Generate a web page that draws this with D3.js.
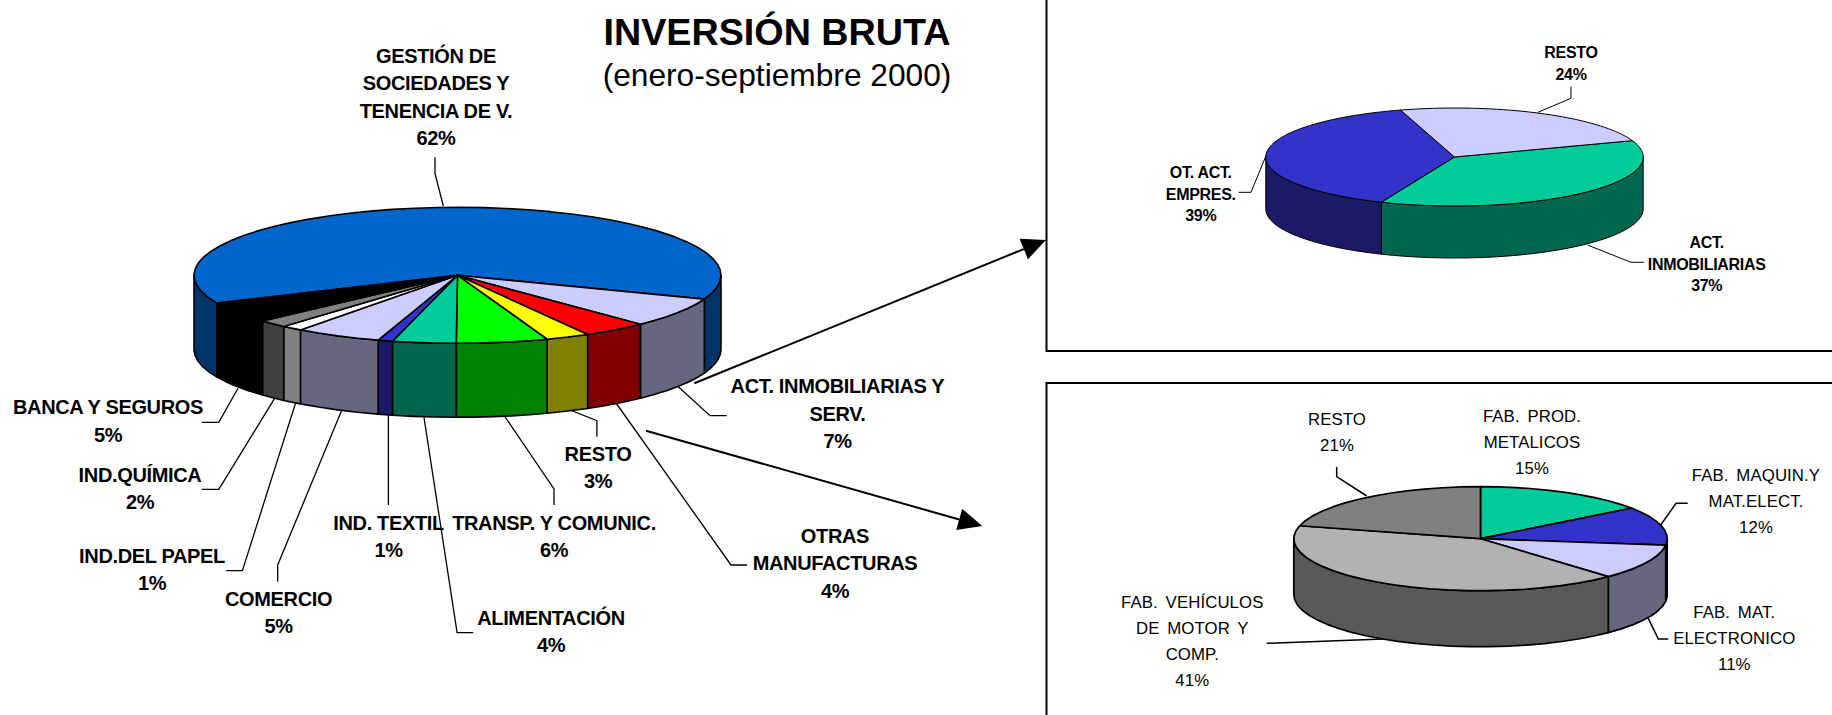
<!DOCTYPE html>
<html><head><meta charset="utf-8">
<script src="https://cdnjs.cloudflare.com/ajax/libs/d3/7.8.5/d3.min.js"></script>
<style>html,body{margin:0;padding:0;background:#fff;overflow:hidden}svg{display:block}text{font-family:"Liberation Sans",Arial,sans-serif;fill:#000}</style>
</head><body><svg id="c" width="1832" height="715"></svg>
<script>
// ---------- data ----------
const mainCategories = [["GESTIÓN DE","SOCIEDADES Y","TENENCIA DE V."],["ACT. INMOBILIARIAS Y","SERV."],["OTRAS","MANUFACTURAS"],["RESTO"],["TRANSP. Y COMUNIC."],["ALIMENTACIÓN"],["IND. TEXTIL"],["COMERCIO"],["IND.DEL PAPEL"],["IND.QUÍMICA"],["BANCA Y SEGUROS"]];
const mainValues = [62.45,7.1,4,2.7,5.6,3.9,0.9,5.3,1.3,1.8,5.05];
const mainTop  = ["#0066CC","#CCCCFF","#FF0000","#FFFF00","#00FF00","#00CC99","#3333CC","#CCCCFF","#FFFFFF","#808080","#000000"];
const mainSide = ["#003366","#666680","#800000","#808000","#008000","#006650","#1A1A66","#666680","#808080","#404040","#000000"];

const servCategories = [["ACT.","INMOBILIARIAS"],["OT. ACT.","EMPRES."],["RESTO"]];
const servValues = [36.75,39.05,24.2];
const servTop  = ["#00CC99","#3333CC","#CCCCFF"];
const servSide = ["#006650","#1A1A66","#666680"];

const fabCategories = [["FAB. PROD.","METALICOS"],["FAB. MAQUIN.Y","MAT.ELECT."],["FAB. MAT.","ELECTRONICO"],["FAB. VEHÍCULOS","DE MOTOR Y","COMP."],["RESTO"]];
const fabValues = [15,12,11,41,21];
const fabTop  = ["#00CC99","#3333CC","#CCCCFF","#B2B2B2","#808080"];
const fabSide = ["#006650","#1A1A66","#666680","#595959","#404040"];

const titleText = "INVERSIÓN BRUTA";
const subtitleText = "(enero-septiembre 2000)";

// ---------- layout ----------
const mainLayout = [
 {x:436,y:62.7,lead:[[435,157.3],[435,173.3],[443.3,206]]},
 {x:837.5,y:393.3,lead:[[726.7,415.7],[710,415.7],[678.3,386.7]]},
 {x:835,y:543,lead:[[747,565],[731,565],[616,403]]},
 {x:598,y:460.7,lead:[[596.9,436.7],[596.9,420.7],[570,410]]},
 {x:554,y:530,lead:[[554,505],[554,489],[504.5,416]]},
 {x:551,y:625,lead:[[473.2,632.7],[457.1,632.7],[424,417.3]]},
 {x:388.6,y:530,lead:[[388.4,505],[388.4,415]]},
 {x:278.6,y:606,lead:[[277.7,581.7],[277.7,565],[341.5,410.7]]},
 {x:152,y:562.7,lead:[[226.3,570.7],[242.4,570.7],[295.5,403.3]]},
 {x:140,y:481.7,lead:[[201.8,489.3],[218.8,489.3],[274.6,398.3]]},
 {x:108,y:414.3,lead:[[201.8,422.3],[218.8,422.3],[238,388.3]]}
];
const servLayout = [
 {x:1706.7,y:248.3,lead:[[1643.8,262.3],[1631,262.3],[1587.5,245]]},
 {x:1200.8,y:178.3,lead:[[1238.7,192.3],[1251,192.3],[1266.3,155]]},
 {x:1571,y:58.3,lead:[[1571,86.7],[1571,98.3],[1538,112.3]]}
];
const fabLayout = [
 {x:1532,y:421.7,lead:null},
 {x:1756,y:481,lead:[[1687.7,503.3],[1676,503.3],[1660.7,525]]},
 {x:1734.3,y:618.3,lead:[[1668.3,639],[1658.3,639],[1648.3,618.3]]},
 {x:1192.3,y:608.3,lead:[[1266.7,643.3],[1383,639]]},
 {x:1337,y:425,lead:[[1336.7,467],[1336.7,476.7],[1366.7,496]]}
];

const rad = d => d*Math.PI/180;
const svg = d3.select("#c");
svg.append("rect").attr("width",1832).attr("height",715).attr("fill","#fff");
const lineGen = d3.line();

function pie3d(o){
  const arcs = d3.pie().sort(null).startAngle(rad(o.start)).endAngle(rad(o.start+360))(o.values);
  const pt = (a,dz=0)=>[o.cx+o.rx*Math.sin(a), o.cy-o.ry*Math.cos(a)+dz];
  const angles = (a0,a1)=>{const n=Math.max(1,Math.ceil((a1-a0)/rad(o.step)));return d3.range(n+1).map(i=>a0+(a1-a0)*i/n);};
  const g = svg.append("g").attr("stroke","#000").attr("stroke-width",o.sw).attr("stroke-linejoin","round");
  const walls=[];
  arcs.forEach((d,i)=>{
    [0,rad(360),-rad(360)].forEach(off=>{
      const a0=Math.max(d.startAngle+off,rad(90)),a1=Math.min(d.endAngle+off,rad(270));
      if(a1>a0) walls.push({a0,a1,i});
    });
  });
  g.selectAll("path.w").data(walls).join("path").attr("class","w")
    .attr("fill",d=>o.side[d.i])
    .attr("d",d=>{const as=angles(d.a0,d.a1);return lineGen([...as.map(a=>pt(a)),...as.slice().reverse().map(a=>pt(a,o.depth))])+"Z";});
  g.selectAll("path.t").data(arcs).join("path").attr("class","t")
    .attr("fill",(d,i)=>o.top[i])
    .attr("d",d=>lineGen([[o.cx,o.cy],...angles(d.startAngle,d.endAngle).map(a=>pt(a))])+"Z");
}

function labels(o){
  const g = svg.append("g");
  o.cats.forEach((lines,i)=>{
    const L=o.layout[i];
    const t=g.append("text").attr("text-anchor","middle").attr("font-size",o.fs).attr("font-weight",o.fw)
      .attr("letter-spacing",o.ls).attr("word-spacing",o.ws||0);
    [...lines,Math.round(o.values[i])+"%"].forEach((s,j)=>t.append("tspan").attr("x",L.x).attr("y",L.y+j*o.lh).text(s));
    if(L.lead) g.append("path").attr("d",lineGen(L.lead)).attr("fill","none").attr("stroke","#000").attr("stroke-width",o.lw);
  });
}

function arrow(x0,y0,x1,y1){
  const a=Math.atan2(y1-y0,x1-x0),l=24,w=11;
  const bx=x1-l*Math.cos(a),by=y1-l*Math.sin(a);
  const nx=-Math.sin(a),ny=Math.cos(a);
  svg.append("path").attr("d",lineGen([[x0,y0],[bx,by]])).attr("stroke","#000").attr("stroke-width",2).attr("fill","none");
  svg.append("path").attr("d",lineGen([[x1,y1],[bx+nx*w,by+ny*w],[bx-nx*w,by-ny*w]])+"Z").attr("fill","#000");
}

svg.append("path").attr("d",lineGen([[1046.5,-5],[1046.5,351],[1840,351]])).attr("fill","none").attr("stroke","#000").attr("stroke-width",2);
svg.append("path").attr("d",lineGen([[1046.5,720],[1046.5,383],[1840,383]])).attr("fill","none").attr("stroke","#000").attr("stroke-width",2);

pie3d({values:mainValues,top:mainTop,side:mainSide,start:-114.1,cx:457.5,cy:275.3,rx:263.5,ry:68,depth:74,sw:1.6,step:5});
pie3d({values:servValues,top:servTop,side:servSide,start:70.5,cx:1454.5,cy:157,rx:188.7,ry:49,depth:52,sw:1,step:2});
pie3d({values:fabValues,top:fabTop,side:fabSide,start:0,cx:1480.5,cy:538.7,rx:186.7,ry:52,depth:56,sw:1.7,step:6});

labels({cats:mainCategories,values:mainValues,layout:mainLayout,fs:20,fw:"bold",ls:-0.35,lh:27.4,lw:1.3});
labels({cats:servCategories,values:servValues,layout:servLayout,fs:16,fw:"bold",ls:-0.3,lh:21.5,lw:1});
labels({cats:fabCategories,values:fabValues,layout:fabLayout,fs:16.8,fw:"normal",ls:0.1,ws:3,lh:26,lw:1.5});

arrow(694.3,383.3,1046,240);
arrow(646,430.7,982.3,526);

svg.append("text").attr("x",777).attr("y",45).attr("text-anchor","middle").attr("font-size",37.7).attr("font-weight","bold").text(titleText);
svg.append("text").attr("x",777).attr("y",86).attr("text-anchor","middle").attr("font-size",31.7).text(subtitleText);
</script></body></html>
